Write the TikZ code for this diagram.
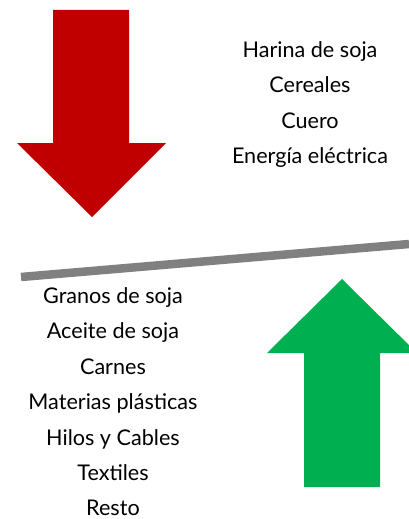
\documentclass[tikz,border=0pt]{standalone}
\usepackage{fontspec}
\setmainfont{Lato}
\definecolor{arrred}{HTML}{C00000}
\definecolor{arrgreen}{HTML}{00B050}
\definecolor{bargray}{HTML}{808080}
\begin{document}
\begin{tikzpicture}[x=1pt,y=-1pt,
  lbl/.style={font=\fontsize{21.6}{24}\selectfont, text=black, inner sep=0pt, anchor=base}]
\useasboundingbox (0,0) rectangle (409,519);
% red arrow down
\fill[arrred] (53,10) -- (129,10) -- (129,143) -- (166,143) -- (92,217) -- (17,143) -- (53,143) -- cycle;
% green arrow up
\fill[arrgreen] (304,487) -- (380,487) -- (380,353) -- (417,353) -- (342,279) -- (267,353) -- (304,353) -- cycle;
% gray bar
\coordinate (b1) at (21,277);
\coordinate (b2) at (409,244);
\draw[bargray, line width=8.5pt] (b1) -- (b2);
% top labels
\node[lbl] (t1) at (310,57) {Harina de soja};
\node[lbl] (t2) at (310,92.5) {Cereales};
\node[lbl] (t3) at (310,128) {Cuero};
\node[lbl] (t4) at (310,163.5) {Energía eléctrica};
% bottom labels
\node[lbl] (u1) at (113,303) {Granos de soja};
\node[lbl] (u2) at (113,338.5) {Aceite de soja};
\node[lbl] (u3) at (113,374) {Carnes};
\node[lbl] (u4) at (113,409.5) {Materias plásticas};
\node[lbl] (u5) at (113,445) {Hilos y Cables};
\node[lbl] (u6) at (113,480.5) {Textiles};
\node[lbl] (u7) at (113,515) {Resto};
\end{tikzpicture}
\end{document}
